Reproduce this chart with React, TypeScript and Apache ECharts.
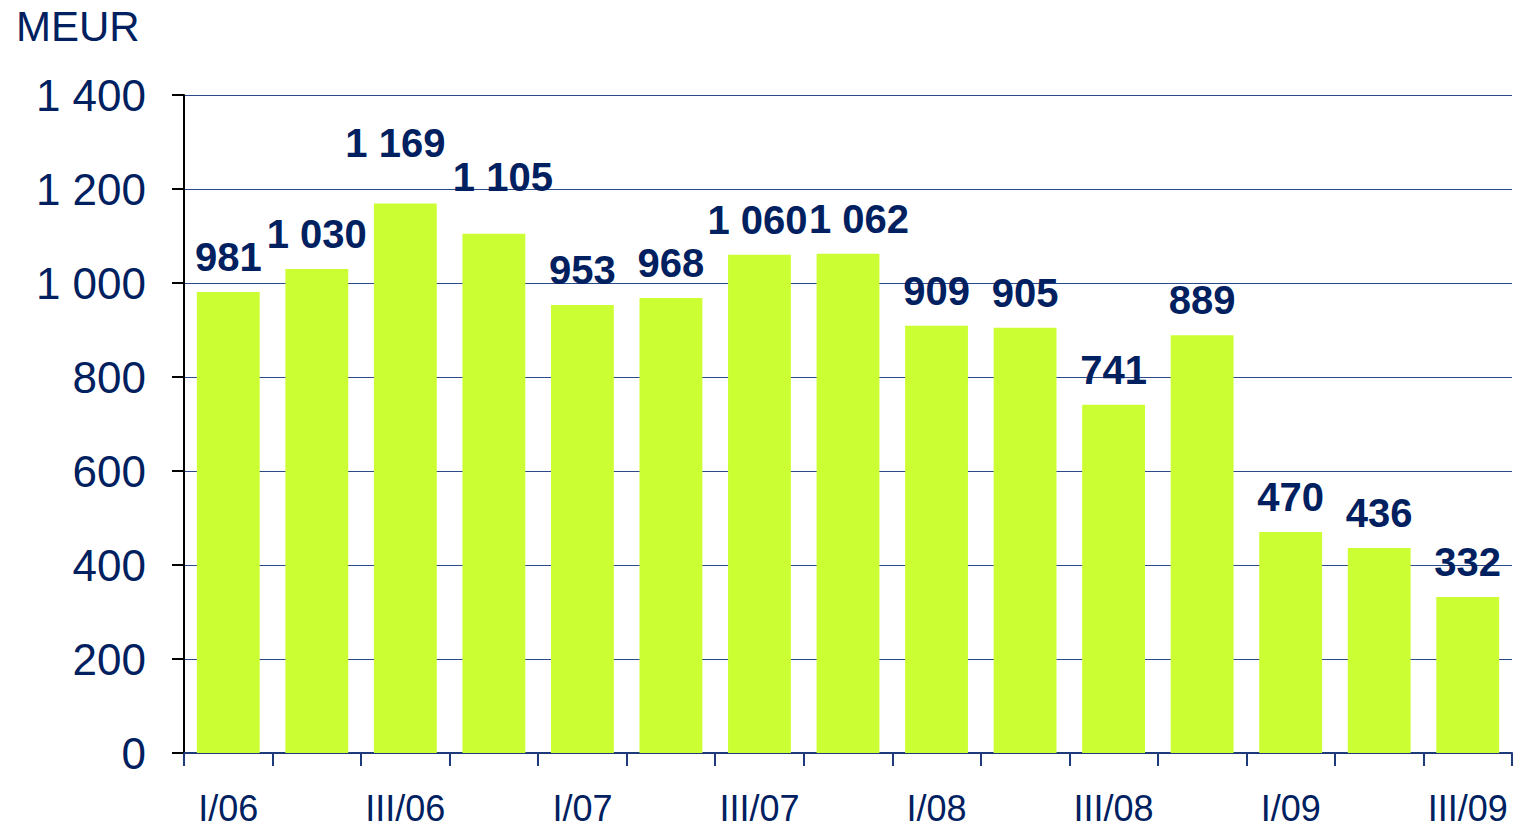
import React, { useEffect, useRef } from "react";
import * as echarts from "echarts";

const categories = [
  "I/06", "II/06", "III/06", "IV/06",
  "I/07", "II/07", "III/07", "IV/07",
  "I/08", "II/08", "III/08", "IV/08",
  "I/09", "II/09", "III/09",
];
const values = [981, 1030, 1169, 1105, 953, 968, 1060, 1062, 909, 905, 741, 889, 470, 436, 332];
const yTicks = [0, 200, 400, 600, 800, 1000, 1200, 1400];
const unitLabel = "MEUR";
// per-bar label nudges (style only), matching the reference's hand-placed labels
const labelOffsets: Record<number, [number, number]> = {
  2: [-10, -26],
  3: [9, -22],
  6: [-2, 0],
  7: [11, 0],
};

const NAVY = "#002060";
const fmt = (v: number) => {
  if (v >= 1000) {
    const th = Math.floor(v / 1000);
    const rest = String(v % 1000).padStart(3, "0");
    return th + " " + rest;
  }
  return String(v);
};

export default function App() {
  const ref = useRef<HTMLDivElement>(null);
  useEffect(() => {
    document.body.style.margin = "0";
    if (!ref.current) return;
    const chart = echarts.init(ref.current, undefined, { renderer: "svg" });
    chart.setOption({
      animation: false,
      backgroundColor: "#ffffff",
      textStyle: { fontFamily: "Liberation Sans" },
      title: {
        text: unitLabel,
        left: 11,
        top: 0,
        textStyle: { fontSize: 42, fontWeight: "normal", color: NAVY, fontFamily: "Liberation Sans" },
      },
      grid: { left: 184, right: 2, top: 95, bottom: 75, containLabel: false },
      xAxis: {
        type: "category",
        data: categories,
        axisLine: { show: true, lineStyle: { color: "#1f3a7a", width: 2 } },
        axisTick: { show: true, interval: 0, length: 13, lineStyle: { color: "#1f3a7a", width: 2 } },
        axisLabel: {
          interval: 1,
          margin: 37,
          fontSize: 36,
          color: NAVY,
          fontFamily: "Liberation Sans",
        },
      },
      yAxis: {
        type: "value",
        min: yTicks[0],
        max: yTicks[yTicks.length - 1],
        interval: 200,
        axisLine: { show: true, lineStyle: { color: "#000000", width: 2 } },
        axisTick: { show: true, length: 12, lineStyle: { color: "#000000", width: 2 } },
        axisLabel: {
          margin: 38,
          fontSize: 44,
          color: NAVY,
          fontFamily: "Liberation Sans",
          formatter: (v: number) => fmt(v),
        },
        splitLine: { show: true, lineStyle: { color: "#2a4a8a", width: 1 } },
      },
      series: [
        {
          type: "bar",
          data: values.map((v, i) => {
            const off = labelOffsets[i];
            return off ? { value: v, label: { offset: off } } : v;
          }),
          barCategoryGap: "29%",
          itemStyle: { color: "#ccff33" },
          label: {
            show: true,
            position: "top",
            distance: 15,
            fontSize: 40,
            fontWeight: "bold",
            color: NAVY,
            fontFamily: "Liberation Sans",
            formatter: (p: any) => fmt(p.value),
          },
        },
      ],
    });
    return () => chart.dispose();
  }, []);
  return <div ref={ref} style={{ width: 1514, height: 828 }} />;
}
